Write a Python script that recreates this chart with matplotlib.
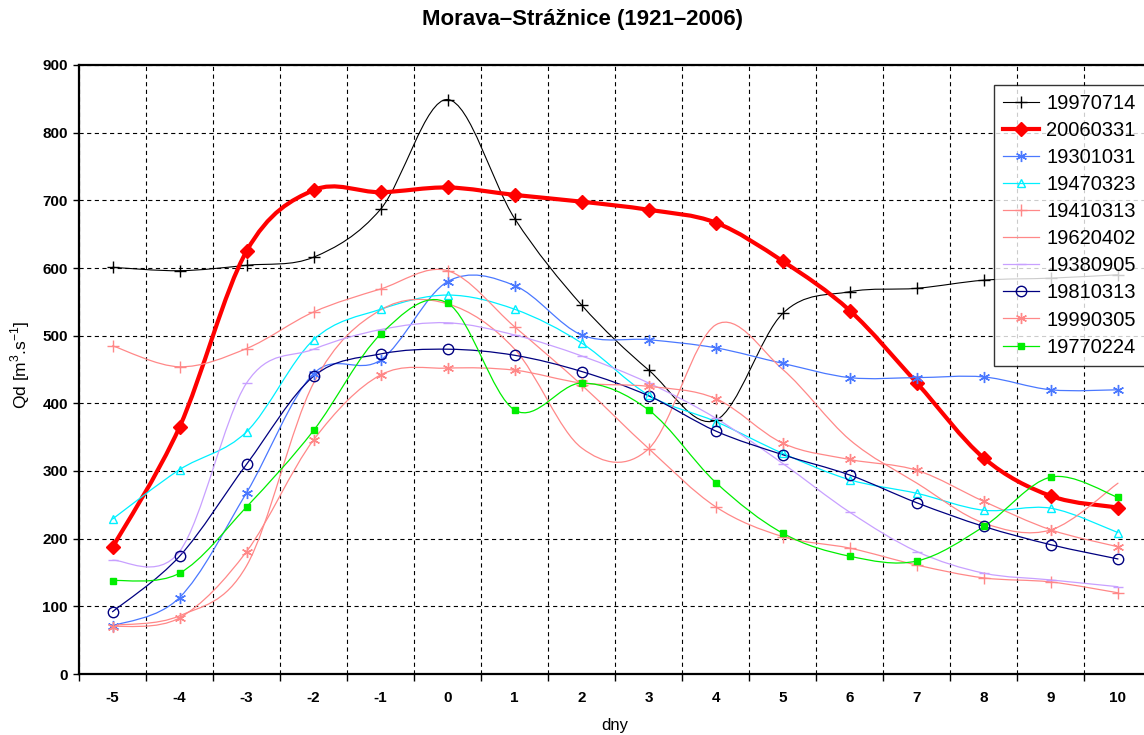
import numpy as np
import matplotlib
matplotlib.use('Agg')
import matplotlib.pyplot as plt
from matplotlib.path import Path
from matplotlib.patches import PathPatch
from matplotlib.lines import Line2D

plt.rcParams['font.family'] = ['Liberation Sans', 'DejaVu Sans']
plt.rcParams['mathtext.fontset'] = 'custom'
plt.rcParams['mathtext.rm'] = 'Liberation Sans'
plt.rcParams['lines.scale_dashes'] = False

# dny kolem kulminace
dny = [-5, -4, -3, -2, -1, 0, 1, 2, 3, 4, 5, 6, 7, 8, 9, 10]

q19970714 = [601, 596, 604, 616, 687, 849, 673, 545, 449, 375, 533, 565, 570, 582, 585, 590]
q20060331 = [187, 365, 625, 715, 712, 719, 708, 698, 686, 667, 610, 537, 430, 319, 263, 246]
q19301031 = [71, 113, 268, 444, 464, 580, 574, 501, 494, 482, 459, 438, 438, 439, 420, 420]
q19470323 = [229, 302, 358, 494, 539, 560, 539, 489, 412, 373, 326, 287, 267, 242, 245, 209]
q19410313 = [485, 454, 481, 535, 569, 596, 513, 427, 333, 247, 203, 186, 161, 142, 136, 120]
q19620402 = [72, 86, 160, 430, 538, 547, 480, 334, 333, 516, 450, 346, 282, 223, 213, 282]
q19380905 = [168, 181, 430, 480, 509, 519, 501, 470, 430, 378, 311, 239, 181, 149, 139, 129]
q19810313 = [92, 174, 310, 440, 473, 480, 471, 447, 411, 359, 324, 294, 253, 218, 191, 170]
q19990305 = [70, 83, 181, 346, 442, 452, 449, 430, 425, 407, 341, 317, 301, 255, 213, 188]
q19770224 = [138, 149, 247, 360, 502, 548, 390, 430, 390, 283, 208, 174, 167, 218, 291, 261]

nazvy = ['19970714', '20060331', '19301031', '19470323', '19410313',
         '19620402', '19380905', '19810313', '19990305', '19770224']
data = [q19970714, q20060331, q19301031, q19470323, q19410313,
        q19620402, q19380905, q19810313, q19990305, q19770224]
# barva, tloustka, znacka, velikost, vypln
styly = [('#000000', 0.8, '+', 8, '#000000'),
         ('#ff0000', 3.0, 'D', 7, '#ff0000'),
         ('#4a78ff', 0.9, (6, 2, 0), 8, '#4a78ff'),
         ('#00f0ff', 0.9, '^', 6, 'none'),
         ('#ff8888', 0.9, '+', 8, '#ff8888'),
         ('#ff8888', 0.9, '', 0, 'none'),
         ('#c8a0ff', 0.9, '_', 7, '#c8a0ff'),
         ('#000080', 0.9, 'o', 7.5, 'none'),
         ('#ff8888', 0.9, (6, 2, 0), 8, '#ff8888'),
         ('#00ee00', 0.9, 's', 5, '#00ee00')]


def hladka_cesta(x, y):
    # vyhlazena cara jako v Excelu (Catmull-Rom -> Bezier)
    p = np.column_stack([x, y]).astype(float)
    n = len(p)
    verts = [p[0]]
    codes = [Path.MOVETO]
    for i in range(n - 1):
        p0 = p[i - 1] if i > 0 else p[i]
        p3 = p[i + 2] if i + 2 < n else p[i + 1]
        verts += [p[i] + (p[i + 1] - p0) / 6, p[i + 1] - (p3 - p[i]) / 6, p[i + 1]]
        codes += [Path.CURVE4] * 3
    return Path(verts, codes)


fig = plt.figure(figsize=(11.44, 7.35), dpi=100)
ax = fig.add_axes([79 / 1144, 61 / 735, 1072.5 / 1144, 609 / 735])

ax.set_xlim(-5.5, 10.5)
ax.set_ylim(0, 900)

# mrizka na hranicich kategorii
ax.set_xticks(np.arange(-5.5, 10.6, 1))
ax.set_xticklabels([])
ax.set_xticks(dny, minor=True)
ax.set_xticklabels([str(d) for d in dny], minor=True, fontweight='bold', fontsize=11)
ax.tick_params(axis='x', which='major', direction='out', length=5, width=1)
ax.tick_params(axis='x', which='minor', length=0, pad=12)
ax.set_yticks(range(0, 901, 100))
ax.set_yticklabels([str(v) for v in range(0, 901, 100)], fontweight='bold', fontsize=11)
ax.tick_params(axis='y', direction='out', length=4, width=1, pad=4)
ax.grid(True, which='major', color='black', linestyle=(0, (3, 2.5)), linewidth=0.8)
ax.set_axisbelow(True)
for s in ax.spines.values():
    s.set_linewidth(1.6)

handles = []
for nazev, q, (barva, lw, zn, ms, mfc) in zip(nazvy, data, styly):
    ax.add_patch(PathPatch(hladka_cesta(dny, q), fill=False, edgecolor=barva,
                           linewidth=lw, capstyle='round', joinstyle='round'))
    if zn:
        ax.plot(dny, q, linestyle='none', marker=zn, markersize=ms,
                markeredgecolor=barva, markerfacecolor=mfc, markeredgewidth=1.0)
    handles.append(Line2D([], [], color=barva, linewidth=lw, marker=zn if zn else None,
                          markersize=ms, markeredgecolor=barva, markerfacecolor=mfc,
                          markeredgewidth=1.0))

# legenda presahuje pres pravy okraj obrazku
leg = fig.legend(handles, nazvy, loc='upper left',
                 bbox_to_anchor=(994 / 1144, 1 - 85 / 735, 175 / 1144, 0), mode='expand',
                 frameon=True, fancybox=False, fontsize=14.5, handlelength=1.8,
                 handletextpad=0.35, labelspacing=0.4, borderpad=0.45, borderaxespad=0)
leg.get_frame().set_edgecolor('black')
leg.get_frame().set_linewidth(1.0)

fig.text(582 / 1144, 1 - 19 / 735, 'Morava\u2013Strážnice (1921\u20132006)', ha='center', va='center',
         fontsize=16, fontweight='bold')
ax.set_xlabel('dny', fontsize=12)
ax.xaxis.set_label_coords(0.5, -0.072)
fig.text(20 / 1144, 1 - 365 / 735, 'Qd [m$^{3}$.s$^{-1}$]', rotation=90, ha='center', va='center',
         fontsize=12.5)

fig.savefig('out.png', dpi=100)
